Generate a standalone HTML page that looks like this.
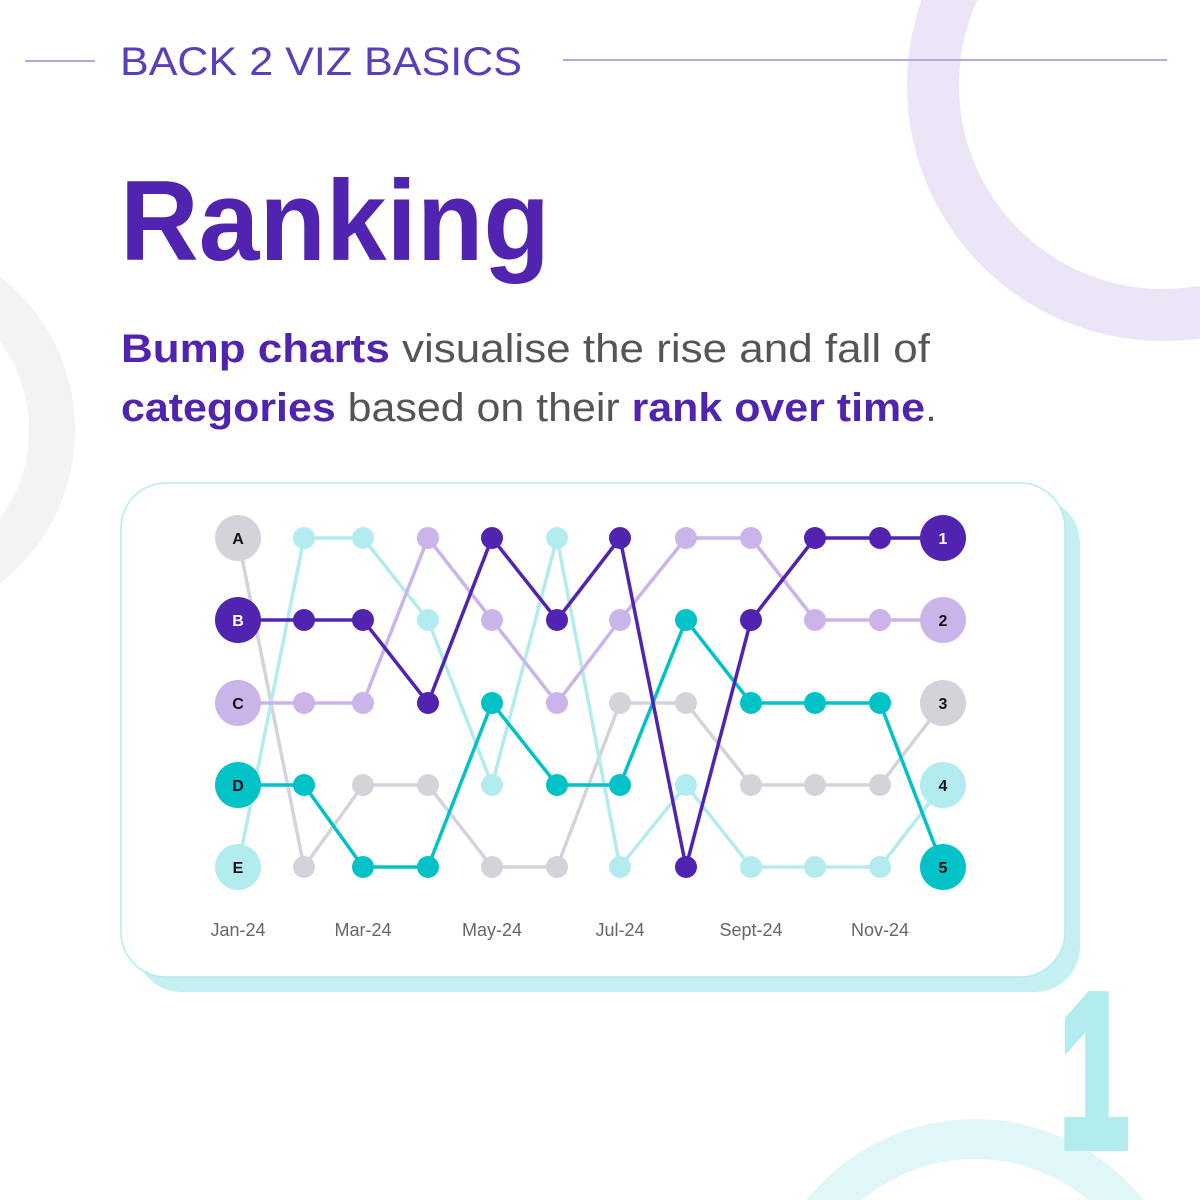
<!DOCTYPE html>
<html><head><meta charset="utf-8"><style>
html,body{margin:0;padding:0;width:1200px;height:1200px;overflow:hidden;}
body{background:#fff;position:relative;font-family:"Liberation Sans",sans-serif;}
svg{display:block;}
</style></head><body>
<svg width="1200" height="1200" style="position:absolute;left:0;top:0">
<circle cx="1163" cy="85" r="230" fill="none" stroke="#ece5f7" stroke-width="52"/>
<circle cx="-120" cy="430" r="172" fill="none" stroke="#f2f3f5" stroke-width="46"/>
<circle cx="975" cy="1335" r="196" fill="none" stroke="#e1f6f7" stroke-width="40"/>
<line x1="25" y1="61" x2="95" y2="61" stroke="#b9a4e6" stroke-width="2"/>
<line x1="563" y1="60" x2="1167" y2="60" stroke="#b9a4e6" stroke-width="2"/>
<text x="120" y="75" font-size="40" fill="#5b3fb8" textLength="402" lengthAdjust="spacingAndGlyphs" font-family="Liberation Sans, sans-serif">BACK 2 VIZ BASICS</text>
<text x="120" y="260" font-size="114" font-weight="bold" fill="#5024b0" font-family="Liberation Sans, sans-serif" textLength="430" lengthAdjust="spacingAndGlyphs">Ranking</text>
<text x="121" y="362" font-size="40" fill="#555" font-family="Liberation Sans, sans-serif" textLength="809" lengthAdjust="spacingAndGlyphs"><tspan font-weight="bold" fill="#5024b0">Bump charts</tspan> visualise the rise and fall of</text>
<text x="121" y="421" font-size="40" fill="#555" font-family="Liberation Sans, sans-serif" textLength="816" lengthAdjust="spacingAndGlyphs"><tspan font-weight="bold" fill="#5024b0">categories</tspan> based on their <tspan font-weight="bold" fill="#5024b0">rank over time</tspan>.</text>
<text x="1060" y="1145" font-size="215" font-weight="bold" fill="#b3ecee" stroke="#b3ecee" stroke-width="12" stroke-linejoin="miter" font-family="Liberation Sans, sans-serif" textLength="68" lengthAdjust="spacingAndGlyphs">1</text>
<rect x="136" y="498" width="944" height="494" rx="45" fill="#c4f0f1"/>
<rect x="121" y="483" width="944" height="494" rx="45" fill="#fff" stroke="#b3ecee" stroke-width="1.5"/>
<g id="chart"></g>
<g font-size="18" fill="#666" text-anchor="middle" font-family="Liberation Sans, sans-serif">
<text x="238" y="936">Jan-24</text><text x="363" y="936">Mar-24</text><text x="492" y="936">May-24</text><text x="620" y="936">Jul-24</text><text x="751" y="936">Sept-24</text><text x="880" y="936">Nov-24</text>
</g>
</svg>
<script>
var xs=[238,304,363,428,492,557,620,686,751,815,880,943];
var ys=[0,538,620,703,785,867];
var S=[
{n:'A',c:'#d2d4da',tc:'#111',r:[1,5,4,4,5,5,3,3,4,4,4,3]},
{n:'E',c:'#b3ecee',tc:'#111',r:[5,1,1,2,4,1,5,4,5,5,5,4]},
{n:'C',c:'#cab4ea',tc:'#111',r:[3,3,3,1,2,3,2,1,1,2,2,2]},
{n:'D',c:'#00c2c7',tc:'#111',r:[4,4,5,5,3,4,4,2,3,3,3,5]},
{n:'B',c:'#5024b0',tc:'#fff',r:[2,2,2,3,1,2,1,5,2,1,1,1]}];
var h='';
S.forEach(function(s){
 var p=s.r.map(function(v,i){return xs[i]+','+ys[v]}).join(' ');
 h+='<polyline points="'+p+'" fill="none" stroke="'+s.c+'" stroke-width="3.5"/>';
 for(var i=1;i<11;i++) h+='<circle cx="'+xs[i]+'" cy="'+ys[s.r[i]]+'" r="11" fill="'+s.c+'"/>';
});
S.forEach(function(s){
 h+='<circle cx="238" cy="'+ys[s.r[0]]+'" r="23" fill="'+s.c+'"/>';
 h+='<text x="238" y="'+(ys[s.r[0]]+6)+'" font-size="16" font-weight="bold" text-anchor="middle" fill="'+s.tc+'">'+s.n+'</text>';
 h+='<circle cx="943" cy="'+ys[s.r[11]]+'" r="23" fill="'+s.c+'"/>';
 h+='<text x="943" y="'+(ys[s.r[11]]+6)+'" font-size="16" font-weight="bold" text-anchor="middle" fill="'+s.tc+'">'+s.r[11]+'</text>';
});
document.getElementById('chart').innerHTML=h;
</script>
</body></html>
